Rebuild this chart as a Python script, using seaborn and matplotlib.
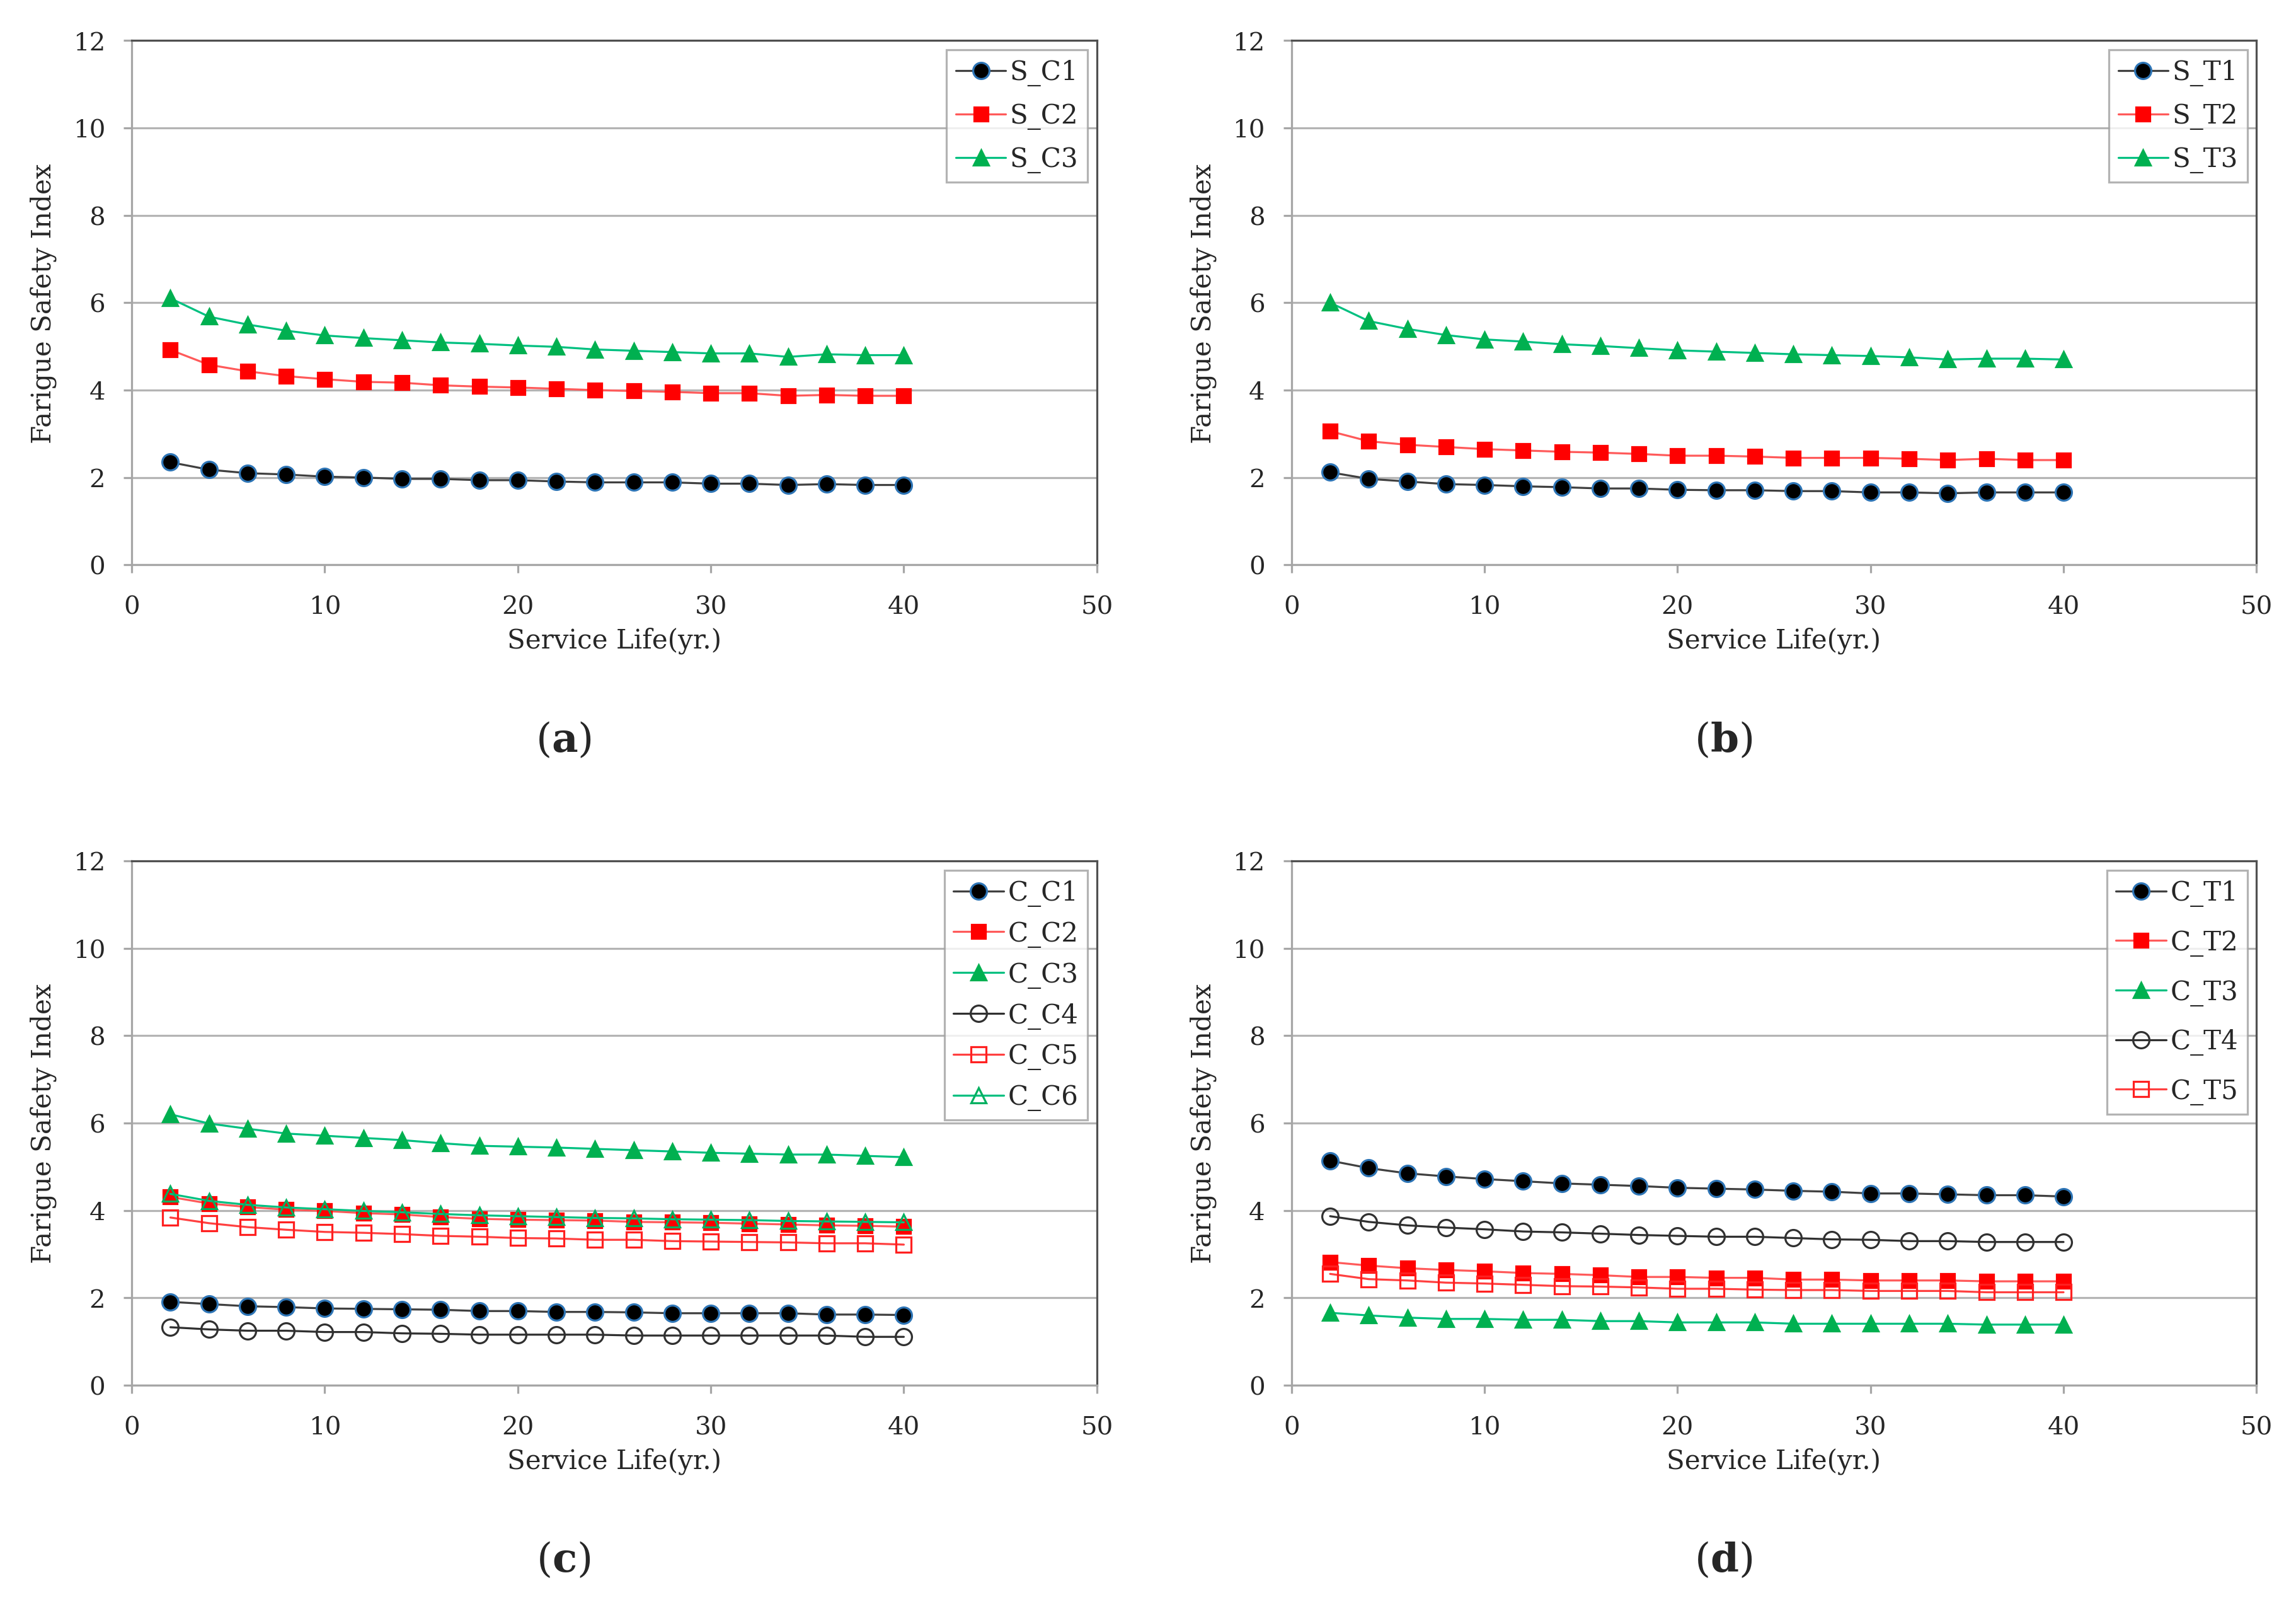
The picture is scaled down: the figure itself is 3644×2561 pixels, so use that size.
import matplotlib
matplotlib.use("Agg")
import matplotlib.pyplot as plt
import seaborn as sns

# Service life (yr.)
years = [2, 4, 6, 8, 10, 12, 14, 16, 18, 20, 22, 24, 26, 28, 30, 32, 34, 36, 38, 40]

# (a) steel, compression
s_c1 = [2.35, 2.18, 2.10, 2.07, 2.02, 2.00, 1.97, 1.97, 1.94, 1.94, 1.91, 1.89, 1.89, 1.89, 1.86, 1.86, 1.83, 1.85, 1.83, 1.83]
s_c2 = [4.92, 4.58, 4.43, 4.32, 4.25, 4.19, 4.17, 4.11, 4.08, 4.06, 4.03, 4.00, 3.98, 3.96, 3.93, 3.93, 3.87, 3.89, 3.87, 3.87]
s_c3 = [6.10, 5.68, 5.50, 5.36, 5.25, 5.19, 5.14, 5.09, 5.06, 5.02, 4.99, 4.93, 4.90, 4.87, 4.84, 4.84, 4.76, 4.82, 4.80, 4.80]

# (b) steel, tension
s_t1 = [2.12, 1.97, 1.91, 1.85, 1.83, 1.80, 1.78, 1.75, 1.75, 1.72, 1.71, 1.71, 1.69, 1.69, 1.66, 1.66, 1.64, 1.66, 1.66, 1.66]
s_t2 = [3.06, 2.83, 2.75, 2.70, 2.65, 2.62, 2.59, 2.57, 2.54, 2.50, 2.50, 2.48, 2.45, 2.45, 2.45, 2.43, 2.40, 2.43, 2.40, 2.40]
s_t3 = [6.00, 5.58, 5.40, 5.26, 5.16, 5.11, 5.05, 5.01, 4.96, 4.91, 4.88, 4.85, 4.82, 4.80, 4.78, 4.75, 4.70, 4.72, 4.72, 4.70]

# (c) concrete, compression
c_c1 = [1.91, 1.86, 1.81, 1.79, 1.76, 1.75, 1.74, 1.73, 1.70, 1.70, 1.68, 1.68, 1.67, 1.65, 1.65, 1.65, 1.65, 1.62, 1.62, 1.61]
c_c2 = [4.31, 4.16, 4.08, 4.02, 3.99, 3.94, 3.91, 3.85, 3.81, 3.79, 3.78, 3.77, 3.74, 3.73, 3.72, 3.70, 3.68, 3.66, 3.65, 3.63]
c_c3 = [6.20, 5.99, 5.87, 5.76, 5.71, 5.66, 5.61, 5.54, 5.48, 5.46, 5.44, 5.41, 5.38, 5.35, 5.32, 5.30, 5.28, 5.28, 5.25, 5.22]
c_c4 = [1.33, 1.28, 1.25, 1.25, 1.22, 1.22, 1.19, 1.18, 1.16, 1.16, 1.16, 1.16, 1.14, 1.14, 1.14, 1.14, 1.14, 1.14, 1.11, 1.11]
c_c5 = [3.84, 3.71, 3.62, 3.56, 3.51, 3.49, 3.46, 3.42, 3.40, 3.37, 3.36, 3.33, 3.33, 3.30, 3.29, 3.28, 3.27, 3.25, 3.25, 3.22]
c_c6 = [4.38, 4.22, 4.13, 4.07, 4.03, 3.99, 3.96, 3.92, 3.89, 3.87, 3.85, 3.83, 3.82, 3.80, 3.79, 3.78, 3.76, 3.75, 3.74, 3.73]

# (d) concrete, tension
c_t1 = [5.14, 4.97, 4.85, 4.78, 4.72, 4.67, 4.62, 4.59, 4.56, 4.52, 4.50, 4.48, 4.45, 4.43, 4.39, 4.39, 4.37, 4.35, 4.35, 4.32]
c_t2 = [2.82, 2.74, 2.68, 2.64, 2.61, 2.57, 2.55, 2.52, 2.48, 2.48, 2.46, 2.46, 2.42, 2.42, 2.40, 2.40, 2.40, 2.38, 2.38, 2.38]
c_t3 = [1.66, 1.60, 1.55, 1.52, 1.52, 1.50, 1.50, 1.47, 1.47, 1.44, 1.44, 1.44, 1.41, 1.41, 1.41, 1.41, 1.41, 1.39, 1.39, 1.39]
c_t4 = [3.87, 3.74, 3.66, 3.61, 3.57, 3.52, 3.50, 3.47, 3.44, 3.42, 3.40, 3.40, 3.37, 3.34, 3.33, 3.30, 3.30, 3.28, 3.28, 3.28]
c_t5 = [2.55, 2.43, 2.40, 2.35, 2.33, 2.30, 2.27, 2.26, 2.24, 2.21, 2.21, 2.19, 2.18, 2.18, 2.16, 2.16, 2.16, 2.13, 2.13, 2.13]

# Series styles (Excel-like)
STYLE = {
    1: dict(color="#404040", marker="o", markerfacecolor="black", markeredgecolor="#2e75b6", markersize=8),
    2: dict(color="#ff5a5a", marker="s", markerfacecolor="#ff0000", markeredgecolor="#ff0000", markersize=7),
    3: dict(color="#00c080", marker="^", markerfacecolor="#00b050", markeredgecolor="#00b050", markersize=7.5),
    4: dict(color="#303030", marker="o", markerfacecolor="none", markeredgecolor="#303030", markersize=8),
    5: dict(color="#ff4040", marker="s", markerfacecolor="none", markeredgecolor="#ff2020", markersize=7.5),
    6: dict(color="#00c080", marker="^", markerfacecolor="none", markeredgecolor="#00b060", markersize=7.5),
}

panels = [
    ("a", [0.0574, 0.6497], [("S_C1", s_c1, 1), ("S_C2", s_c2, 2), ("S_C3", s_c3, 3)], 0.62),
    ("b", [0.5625, 0.6497], [("S_T1", s_t1, 1), ("S_T2", s_t2, 2), ("S_T3", s_t3, 3)], 0.62),
    ("c", [0.0574, 0.1416], [("C_C1", c_c1, 1), ("C_C2", c_c2, 2), ("C_C3", c_c3, 3),
                             ("C_C4", c_c4, 4), ("C_C5", c_c5, 5), ("C_C6", c_c6, 6)], 0.52),
    ("d", [0.5625, 0.1416], [("C_T1", c_t1, 1), ("C_T2", c_t2, 2), ("C_T3", c_t3, 3),
                             ("C_T4", c_t4, 4), ("C_T5", c_t5, 5)], 0.85),
]

sns.set_style("white")
plt.rcParams['font.family'] = ['DejaVu Serif']
plt.rcParams['mathtext.fontset'] = 'custom'
plt.rcParams['mathtext.rm'] = 'DejaVu Serif'
plt.rcParams['mathtext.bf'] = 'DejaVu Serif:bold'

fig = plt.figure(figsize=(15.68, 11.024), dpi=232.4)

for tag, (left, bottom), series, spacing in panels:
    ax = fig.add_axes([left, bottom, 0.4203, 0.3249])
    for name, vals, k in series:
        sns.lineplot(x=years, y=vals, ax=ax, label=name, linewidth=1.0,
                     markeredgewidth=1.0, **STYLE[k])

    ax.set_xlim(0, 50)
    ax.set_ylim(0, 12)
    ax.set_xticks([0, 10, 20, 30, 40, 50])
    ax.set_yticks([0, 2, 4, 6, 8, 10, 12])
    ax.yaxis.grid(True, color="#b4b4b4", linewidth=1.0)
    ax.set_axisbelow(True)
    for s in ["left", "bottom"]:
        ax.spines[s].set_color("#a6a6a6")
        ax.spines[s].set_linewidth(1.0)
    for s in ["top", "right"]:
        ax.spines[s].set_color("#505050")
        ax.spines[s].set_linewidth(1.0)
    ax.tick_params(axis="both", direction="out", length=4, width=1.0,
                   color="#a6a6a6", labelsize=12.5, left=True, bottom=True)
    ax.tick_params(axis="y", pad=9)
    ax.tick_params(axis="x", pad=11)
    ax.set_xlabel("Service Life(yr.)", fontsize=13, labelpad=4)
    ax.set_ylabel("Farigue Safety Index", fontsize=13, labelpad=8)

    leg = ax.legend(loc="upper right", fontsize=13, frameon=True, fancybox=False,
                    borderaxespad=0.35, handlelength=1.9, handletextpad=0.15,
                    borderpad=0.35, labelspacing=spacing)
    leg.get_frame().set_edgecolor("#a0a0a0")
    leg.get_frame().set_linewidth(1.0)

    fig.text(left + 0.4203 * 0.4475, bottom - 0.108, r"($\mathbf{%s}$)" % tag,
             fontsize=20, ha="center", va="center")

fig.savefig("out.png", dpi=232.4, facecolor="white")
